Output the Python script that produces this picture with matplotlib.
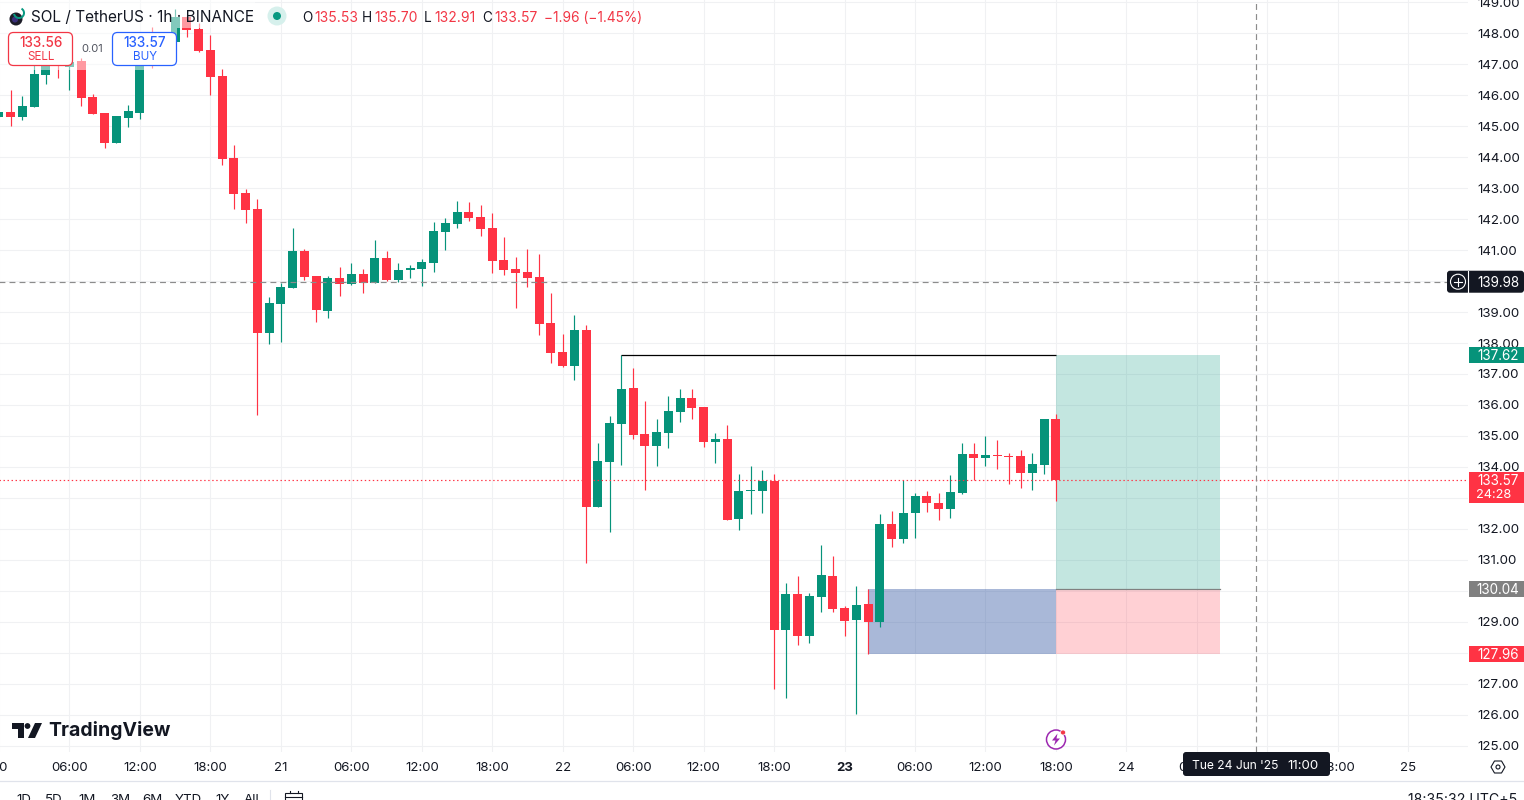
import matplotlib
matplotlib.use("Agg")
import matplotlib.pyplot as plt
from matplotlib.patches import Rectangle, FancyBboxPatch, Circle, Polygon, Wedge

plt.rcParams['font.family'] = ['Inter', 'DejaVu Sans']

# Hourly candles, index = hours since 20 Jun 2025 00:00
opens = [145.30,145.46,145.30,145.62,146.66,147.14,146.92,147.11,145.94,145.43,144.46,145.27,145.43,147.40,147.14,147.72,148.53,148.14,147.46,146.62,143.97,142.84,142.33,138.32,139.26,139.78,140.97,140.16,139.03,140.10,139.91,140.23,139.94,140.75,140.04,140.36,140.39,140.59,141.59,141.85,142.23,142.07,141.72,140.68,140.39,140.29,140.13,138.64,137.71,137.26,138.42,132.70,134.16,135.38,136.54,135.06,134.67,135.09,135.77,136.22,135.93,134.80,134.90,132.32,133.22,133.22,133.54,128.73,129.89,128.53,129.80,130.47,129.44,129.05,129.57,128.99,132.16,131.67,132.51,133.06,132.83,132.64,133.15,134.41,134.28,134.38,134.35,134.35,133.80,134.06,135.53]
highs = [145.46,146.17,145.98,147.08,147.14,147.24,147.20,147.20,146.04,145.43,145.33,145.68,147.30,148.20,147.90,148.79,148.60,148.33,147.95,146.85,144.39,142.97,142.65,139.49,139.94,141.72,141.04,140.16,140.16,140.46,140.59,140.39,141.33,140.97,140.59,140.52,140.71,141.91,142.04,142.59,142.56,142.46,142.20,141.42,140.78,141.04,140.88,139.62,138.29,138.91,138.58,134.77,135.64,137.61,137.19,136.13,135.55,136.29,136.51,136.51,135.93,135.09,135.35,133.77,134.03,133.90,133.77,130.25,130.47,129.92,131.48,131.12,129.50,130.15,130.05,132.48,132.57,133.57,133.15,133.22,133.15,133.73,134.77,134.77,135.00,134.87,134.45,134.55,134.45,135.55,135.70]
lows = [145.30,145.01,145.20,145.62,146.36,146.56,146.17,145.66,145.40,144.30,144.46,144.98,145.23,146.88,147.05,147.72,147.88,147.40,146.01,143.75,142.33,141.87,135.68,137.97,138.03,139.78,140.04,138.68,138.81,139.52,139.88,139.62,139.94,140.00,139.97,140.10,139.84,140.29,141.00,141.72,141.94,141.46,140.26,140.20,139.14,139.81,138.26,137.36,137.23,136.81,130.90,132.70,131.90,134.06,134.90,133.25,134.03,134.61,135.45,135.55,134.64,134.12,132.28,131.96,132.48,132.51,126.83,126.53,128.25,128.31,129.31,129.31,128.54,126.02,127.96,128.83,131.41,131.54,131.70,132.54,132.28,132.35,133.12,133.57,134.03,133.93,133.45,133.32,133.25,133.77,132.91]
closes = [145.46,145.30,145.65,146.69,146.95,146.95,147.08,145.92,145.40,144.46,145.33,145.49,147.40,147.14,147.72,148.53,148.11,147.43,146.59,143.94,142.80,142.29,138.32,139.29,139.81,140.97,140.13,139.07,140.10,139.91,140.23,139.94,140.75,140.04,140.36,140.42,140.62,141.62,141.88,142.23,142.04,141.68,140.65,140.36,140.26,140.10,138.61,137.68,137.26,138.42,132.70,134.19,135.42,136.51,135.03,134.67,135.13,135.80,136.22,135.90,134.80,134.90,132.28,133.22,133.25,133.54,128.73,129.89,128.53,129.83,130.51,129.41,129.02,129.54,128.99,132.16,131.67,132.51,133.06,132.83,132.64,133.19,134.41,134.28,134.38,134.35,134.32,133.80,134.09,135.55,133.57]

time_ticks = [0,6,12,18,24,30,36,42,48,54,60,66,72,78,84,90,96,102,108,114,120]
time_labels = ['20','06:00','12:00','18:00','21','06:00','12:00','18:00','22','06:00','12:00','18:00','23','06:00','12:00','18:00','24','06:00','12:00','18:00','25']
price_ticks = list(range(125, 150))
last_price = 133.57
cross_price = 139.98
cross_hour = 107
target_price = 137.62
entry_price = 130.04
stop_price = 127.96
pos_start, pos_mid, pos_end, trend_start = 74, 90, 104, 53
legend_vals = [('O', '135.53'), ('H', '135.70'), ('L', '132.91'), ('C', '133.57')]

GREEN = '#06937A'
RED = '#FF3344'
INK = '#131722'
GRID = '#F0F1F3'
W, H = 1524, 800
PXH = 11.744
PXP = 30.96

fig = plt.figure(figsize=(W/100, H/100), dpi=100, facecolor='white')
ax = fig.add_axes([-2/W, (H-752)/H, 1470/W, 752/H])
ax.set_xlim(-1/PXH, (1468+1)/PXH)
ax.set_ylim(125-6.5/PXP, 125+745.5/PXP)
for s in ax.spines.values():
    s.set_visible(False)
ax.set_axisbelow(True)
ax.grid(True, color=GRID, lw=0.8)
ax.yaxis.tick_right()
ax.set_yticks(price_ticks)
ax.set_yticklabels([f'{v:.2f}' for v in price_ticks], fontsize=9.6, color=INK)
ax.set_xticks(time_ticks)
ax.set_xticklabels(time_labels, fontsize=9.5, color=INK)
ax.tick_params(axis='both', length=0)
ax.tick_params(axis='y', pad=6.8)
ax.tick_params(axis='x', pad=6.9)
for lab in ax.get_xticklabels():
    if lab.get_text() == '23':
        lab.set_fontweight('bold')

# Long-position drawing
ax.add_patch(Rectangle((pos_start, stop_price), pos_mid-pos_start, entry_price-stop_price, fc=(42/255, 79/255, 158/255, 0.4), ec='none', zorder=1))
ax.add_patch(Rectangle((pos_mid, entry_price), pos_end-pos_mid, target_price-entry_price, fc=(8/255, 153/255, 129/255, 0.24), ec='none', zorder=1))
ax.add_patch(Rectangle((pos_mid, stop_price), pos_end-pos_mid, entry_price-stop_price, fc=(255/255, 45/255, 63/255, 0.22), ec='none', zorder=1))
ax.plot([pos_mid, pos_end], [entry_price, entry_price], color='#808080', lw=0.9, zorder=1.5)
ax.plot([trend_start, pos_mid], [target_price, target_price], color='black', lw=0.9, zorder=4, solid_capstyle='butt')

# Candles
hours = list(range(len(opens)))
colors = [GREEN if c >= o else RED for o, c in zip(opens, closes)]
ax.vlines(hours, lows, highs, colors=colors, lw=0.85, zorder=2)
ax.bar(hours, [max(abs(o-c), 0.035) for o, c in zip(opens, closes)],
       bottom=[min(o, c) for o, c in zip(opens, closes)], width=9/PXH, color=colors, zorder=3)

# Crosshair and last-price line
ax.axhline(last_price, color=RED, lw=0.85, ls=(0, (1.2, 2.2)), zorder=3.5)
ax.plot([-1, (1447+1)/PXH], [cross_price]*2, color='#8C8C8C', lw=0.85, ls=(0, (5, 3.5)), zorder=3.6)
ax.axvline(cross_hour, color='#8C8C8C', lw=0.85, ls=(0, (5, 3.5)), zorder=3.6)

# Overlay in pixel space for the TradingView chrome
fig.canvas.draw()
def py(p):
    return H - ax.transData.transform((0, p))[1]

ov = fig.add_axes([0, 0, 1, 1], zorder=5)
ov.set_xlim(0, W)
ov.set_ylim(H, 0)
ov.axis('off')
ov.patch.set_visible(False)

def box(x0, y0, x1, y1, fc, ec='none', r=2, lw=0, z=5):
    ov.add_patch(FancyBboxPatch((x0+r, y0+r), x1-x0-2*r, y1-y0-2*r, boxstyle=f'round,pad={r},rounding_size={r}',
                                fc=fc, ec=ec, lw=lw, zorder=z))

# translucent legend backdrop
ov.add_patch(Rectangle((0, 0), 255, 28, fc=(1, 1, 1, 0.5), ec='none', zorder=1))
ov.add_patch(Rectangle((0, 28), 177, 42, fc=(1, 1, 1, 0.5), ec='none', zorder=1))

# header
ov.add_patch(Circle((16, 19), 6.5, fc='#1C1C28', ec='none', zorder=5))
ov.add_patch(Circle((15, 19.5), 3, fc='#3A2F7A', ec='none', zorder=6))
ov.add_patch(Wedge((19, 13), 6, -60, 170, width=2, fc='#089981', ec='none', zorder=6))
ov.text(31, 17.5, 'SOL / TetherUS · 1h · BINANCE', fontsize=11.05, color=INK, va='center', ha='left', zorder=6)
ov.add_patch(Circle((277, 16), 9.5, fc='#D6F0EC', ec='none', zorder=5))
ov.add_patch(Circle((277, 16), 4, fc='#089981', ec='none', zorder=6))
xs = [302, 314, 362, 374, 424, 434, 482, 494]
i = 0
for (k, v) in legend_vals:
    ov.text(xs[i], 17.5, k, fontsize=9.8, color=INK, va='center', zorder=6)
    ov.text(xs[i+1], 17.5, v, fontsize=10, color='#F23645', va='center', zorder=6)
    i += 2
ov.text(544, 17.5, '\u22121.96 (\u22121.45%)', fontsize=9.85, color='#F23645', va='center', zorder=6)

# sell/buy widget
box(8.5, 32.5, 72.5, 65.5, 'white', '#F23645', r=5, lw=0.9)
ov.text(41, 43, '133.56', fontsize=9.7, fontweight='medium', color='#F23645', ha='center', va='center', zorder=6)
ov.text(41, 57.5, 'SELL', fontsize=8.4, color='#F23645', ha='center', va='center', zorder=6)
ov.text(92, 49.5, '0.01', fontsize=8, color='#50535E', ha='center', va='center', zorder=6)
box(112.5, 32.5, 176.5, 65.5, 'white', '#2962FF', r=5, lw=0.9)
ov.text(145, 43, '133.57', fontsize=9.7, fontweight='medium', color='#2962FF', ha='center', va='center', zorder=6)
ov.text(145, 57.5, 'BUY', fontsize=8.4, color='#2962FF', ha='center', va='center', zorder=6)

# price-scale tags
def tag(p, txt, fc):
    y = py(p)
    ov.add_patch(Rectangle((1469, y-8), 55, 16, fc=fc, ec='none', zorder=5))
    ov.text(1498, y+1, txt, fontsize=9.7, color='white', ha='center', va='center', zorder=6)

tag(target_price, f'{target_price:.2f}', GREEN)
tag(entry_price, f'{entry_price:.2f}', '#808080')
tag(stop_price, f'{stop_price:.2f}', '#FF3344')
yl = py(last_price)
ov.add_patch(Rectangle((1469, yl-8), 55, 31, fc='#FF3344', ec='none', zorder=5))
ov.text(1498, yl+1, f'{last_price:.2f}', fontsize=9.7, color='white', ha='center', va='center', zorder=6)
ov.text(1494, yl+15, '24:28', fontsize=9.2, color='white', ha='center', va='center', zorder=6)
yc = py(cross_price)
box(1447, yc-11, 1524, yc+11, '#131722', r=3)
ov.plot([1468, 1468], [yc-11, yc+11], color='white', lw=0.8, zorder=6)
ov.text(1498, yc+1, f'{cross_price:.2f}', fontsize=9.7, color='white', ha='center', va='center', zorder=6)
ov.add_patch(Circle((1458, yc), 7.5, fc='none', ec='white', lw=0.8, zorder=6))
ov.plot([1454, 1462], [yc, yc], color='white', lw=0.8, zorder=6)
ov.plot([1458, 1458], [yc-4, yc+4], color='white', lw=0.8, zorder=6)

# crosshair time tag
box(1183, 752, 1330, 776, '#131722', r=3)
ov.text(1192, 766, "Tue 24 Jun '25", fontsize=8.7, color='white', va='center', zorder=6)
ov.text(1287, 766, '11:00', fontsize=9.6, color='white', va='center', zorder=6)

# settings icon
ov.add_patch(Polygon([(1491, 767), (1494.5, 761), (1501.5, 761), (1505, 767), (1501.5, 773), (1494.5, 773)], fc='white', ec=INK, lw=0.8, zorder=6))
ov.add_patch(Circle((1498, 767), 2, fc='white', ec=INK, lw=0.8, zorder=6))

# bottom toolbar
ov.plot([0, W], [780.7, 780.7], color='#E0E3EB', lw=0.9, zorder=5)
for x, t in zip([24, 54, 87, 120, 152, 188, 223, 252], ['1D', '5D', '1M', '3M', '6M', 'YTD', '1Y', 'All']):
    ov.text(x, 800, t, fontsize=9.6, color=INK, ha='center', va='center', zorder=6)
ov.plot([269.5, 269.5], [790, 800], color='#E0E3EB', lw=0.8, zorder=6)
ov.add_patch(Rectangle((285, 793), 17, 12, fc='white', ec=INK, lw=0.8, zorder=6))
ov.plot([285, 302], [797, 797], color=INK, lw=0.8, zorder=6)
ov.plot([289.5, 289.5], [790.5, 793], color=INK, lw=0.8, zorder=6)
ov.plot([297.5, 297.5], [790.5, 793], color=INK, lw=0.8, zorder=6)
ov.text(1517, 800, '18:35:32 UTC+5', fontsize=10.2, color=INK, ha='right', va='center', zorder=6)

# TradingView logo
ov.add_patch(Polygon([(12, 723), (24, 723), (24, 738), (18, 738), (18, 729), (12, 729)], fc='#131722', ec='none', zorder=6))
ov.add_patch(Circle((27.5, 726), 2.9, fc='#131722', ec='none', zorder=6))
ov.add_patch(Polygon([(35, 723), (42, 723), (35, 738), (28, 738)], fc='#131722', ec='none', zorder=6))
ov.text(48.5, 731, 'TradingView', fontsize=14, fontweight='bold', color='#131722', va='center', zorder=6)

# flash marker
ov.add_patch(Circle((1056, 739.5), 9.5, fc='white', ec='#9C27B0', lw=1.1, zorder=6))
ov.add_patch(Polygon([(1057.5, 733.5), (1052, 740.5), (1055.5, 740.5), (1054, 745.5), (1060, 738.5), (1056.5, 738.5)], fc='#9C27B0', ec='none', zorder=7))
ov.add_patch(Circle((1063, 732.5), 2.5, fc='#F23645', ec='white', lw=0.5, zorder=7))

fig.savefig('out.png', dpi=100)
